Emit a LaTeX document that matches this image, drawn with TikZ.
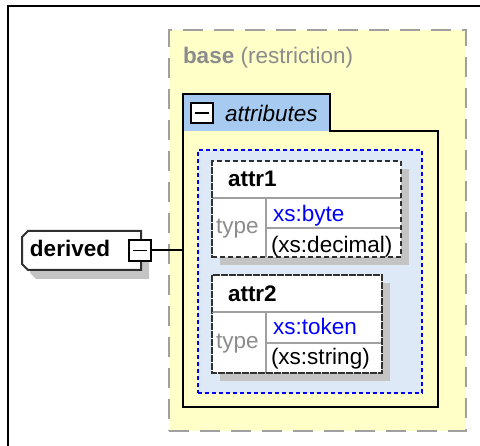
\documentclass[tikz,border=0pt]{standalone}
\usepackage{fontspec}
\setmainfont{Liberation Sans}
\usetikzlibrary{shadows}
\definecolor{baseyellow}{HTML}{FFFFC8}
\definecolor{basegray}{HTML}{A0A0A0}
\definecolor{tabblue}{HTML}{A6CAF0}
\definecolor{grpblue}{HTML}{DDE9F7}
\definecolor{txtgray}{HTML}{8C8C8C}
\definecolor{shadowgray}{HTML}{C4C4C4}
\definecolor{outline}{HTML}{303030}
\begin{document}
\begin{tikzpicture}[x=1pt,y=-1pt,
  font=\fontsize{22.5}{25}\selectfont,
  box/.style={rectangle, inner sep=0pt, outer sep=0pt, anchor=north west},
  lbl/.style={anchor=base west, inner sep=0pt, outer sep=0pt},
  attrbox/.style={box, fill=white, draw=outline, line width=2pt, dash pattern=on 5pt off 3pt,
     drop shadow={shadow xshift=8pt, shadow yshift=-8pt, fill=shadowgray, opacity=1}},
  divider/.style={draw=basegray, line width=2pt},
  minusbox/.style={box, fill=white, draw=black, line width=1.6pt}
]
\useasboundingbox (0,0) rectangle (480,446);
% outer window frame
\coordinate (fr1) at (8,446);
\coordinate (fr2) at (8,6);
\coordinate (fr3) at (480,6);
\draw[line width=2pt] (fr1) -- (fr2) -- (fr3);

% base restriction box
\node[box, fill=baseyellow, draw=basegray, line width=2pt, dash pattern=on 20pt off 11pt,
      minimum width=297pt, minimum height=401pt] (base) at (169,30) {};
\node[lbl, text=txtgray] (basetxt) at (183,64) {\textbf{base} (restriction)};

% attributes container
\node[box, fill=tabblue, minimum width=147pt, minimum height=37pt] (tab) at (183,94) {};
\node[box, minimum width=255pt, minimum height=276pt] (body) at (183,131) {};
\draw[line width=2pt, line join=miter] (body.south west) -- (tab.north west) -- (tab.north east)
   -- (tab.south east) -- (body.north east) -- (body.south east) -- cycle;
\node[minusbox, minimum width=22pt, minimum height=20pt] (tabminus) at (191,103) {};
\draw[line width=1.6pt] ([xshift=4pt]tabminus.west) -- ([xshift=-4pt]tabminus.east);
\node[lbl] (attrtxt) at (225,122) {\itshape attributes};

% group box
\node[box, fill=grpblue, draw=blue, line width=2pt, dash pattern=on 4pt off 3pt,
      minimum width=224pt, minimum height=243pt] (grp) at (198,150) {};

% attr1
\node[attrbox, minimum width=189pt, minimum height=96pt] (a1) at (212,161) {};
\coordinate (a1t) at (212,198);
\coordinate (a1c) at (266,198);
\coordinate (a1r) at (266,228);
\draw[divider] (a1t) -- (a1t -| a1.east);
\draw[divider] (a1c) -- (a1c |- a1.south);
\draw[divider] (a1r) -- (a1r -| a1.east);
\draw[draw=outline, line width=2pt, dash pattern=on 5pt off 3pt] (a1.north west) rectangle (a1.south east);
\node[lbl] (a1name) at (228,187) {\bfseries attr1};
\node[lbl, text=txtgray] (a1type) at (216,234) {type};
\node[lbl, text=blue] (a1t1) at (273,222) {xs:byte};
\node[lbl] (a1t2) at (271,253) {(xs:decimal)};

% attr2
\node[attrbox, minimum width=170pt, minimum height=98pt] (a2) at (212,275) {};
\coordinate (a2t) at (212,312);
\coordinate (a2c) at (266,312);
\coordinate (a2r) at (266,343);
\draw[divider] (a2t) -- (a2t -| a2.east);
\draw[divider] (a2c) -- (a2c |- a2.south);
\draw[divider] (a2r) -- (a2r -| a2.east);
\draw[draw=outline, line width=2pt, dash pattern=on 5pt off 3pt] (a2.north west) rectangle (a2.south east);
\node[lbl] (a2name) at (228,302) {\bfseries attr2};
\node[lbl, text=txtgray] (a2type) at (216,349) {type};
\node[lbl, text=blue] (a2t1) at (273,335) {xs:token};
\node[lbl] (a2t2) at (271,365) {(xs:string)};

% derived element
\node[box, minimum width=119pt, minimum height=39pt] (derived) at (22,231) {};
\fill[shadowgray] ([shift={(14pt,-9pt)}]derived.north west) -- ([shift={(8pt,-9pt)}]derived.north east)
   -- ([shift={(8pt,-9pt)}]derived.south east) -- ([shift={(14pt,-9pt)}]derived.south west)
   -- ([shift={(8pt,-3pt)}]derived.south west) -- ([shift={(8pt,-15pt)}]derived.north west) -- cycle;
\draw[fill=white, draw=outline, line width=2pt, line join=miter]
   ([xshift=6pt]derived.north west) -- (derived.north east) -- (derived.south east)
   -- ([xshift=6pt]derived.south west) -- ([yshift=6pt]derived.south west)
   -- ([yshift=-6pt]derived.north west) -- cycle;
\node[lbl] (dertxt) at (30,257) {\bfseries derived};
\node[minusbox, minimum width=22pt, minimum height=21pt] (dm) at (129,240) {};
\draw[line width=1.6pt] ([xshift=4pt]dm.west) -- ([xshift=-4pt]dm.east);
\draw[line width=2pt] (dm.east) -- (dm.east -| body.west);
\end{tikzpicture}
\end{document}
